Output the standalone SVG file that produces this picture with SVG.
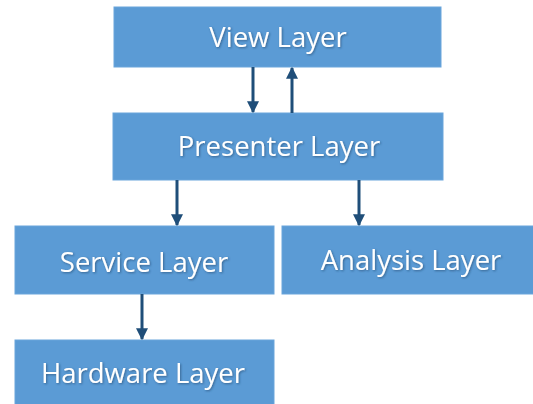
<svg xmlns="http://www.w3.org/2000/svg" width="533" height="404" viewBox="0 0 533 404">
  <defs>
    <marker id="arrow" viewBox="0 0 10 10" refX="9" refY="5" markerWidth="4" markerHeight="4" orient="auto" markerUnits="strokeWidth">
      <path d="M0,0 L10,5 L0,10 z" fill="#1f4e79"/>
    </marker>
    <filter id="shadow" x="-10%" y="-30%" width="120%" height="160%">
      <feDropShadow dx="1" dy="1" stdDeviation="0.8" flood-color="#1f3f66" flood-opacity="0.6"/>
    </filter>
  </defs>
  <style>
    .box { fill: #5b9bd5; stroke: #6aa5db; stroke-width: 1; }
    .label { font-family: "Open Sans", Lato, "Liberation Sans", sans-serif; font-size: 27.5px; fill: #ffffff; text-anchor: middle; filter: url(#shadow); }
    .link { stroke: #1f4e79; stroke-width: 3; fill: none; marker-end: url(#arrow); }
  </style>
  <rect width="533" height="404" fill="#ffffff"/>

  <g id="view">
    <rect class="box" x="114" y="7" width="327" height="60"/>
    <text class="label" x="278" y="47">View Layer</text>
  </g>
  <g id="presenter">
    <rect class="box" x="113" y="113" width="330" height="67"/>
    <text class="label" x="279" y="156">Presenter Layer</text>
  </g>
  <g id="service">
    <rect class="box" x="15" y="226" width="259" height="68"/>
    <text class="label" x="144" y="272">Service Layer</text>
  </g>
  <g id="analysis">
    <rect class="box" x="282" y="226" width="256" height="68"/>
    <text class="label" x="411" y="270">Analysis Layer</text>
  </g>
  <g id="hardware">
    <rect class="box" x="15" y="340" width="259" height="70"/>
    <text class="label" x="143" y="383">Hardware Layer</text>
  </g>

  <g id="connectors">
    <line class="link" x1="253" y1="67" x2="253" y2="112"/>
    <line class="link" x1="292" y1="113" x2="292" y2="68"/>
    <line class="link" x1="177" y1="180" x2="177" y2="225"/>
    <line class="link" x1="359" y1="180" x2="359" y2="225"/>
    <line class="link" x1="142" y1="294" x2="142" y2="339"/>
  </g>
</svg>
